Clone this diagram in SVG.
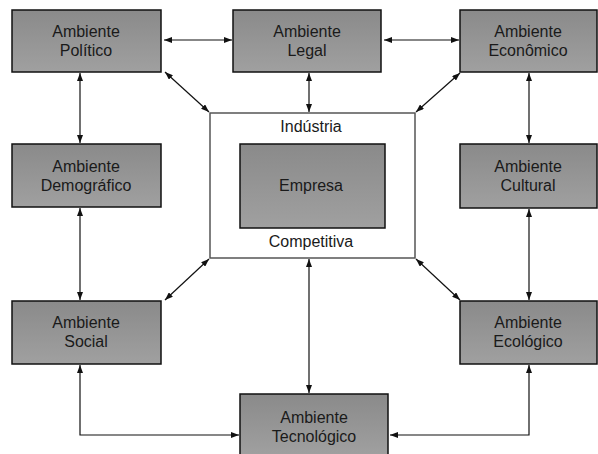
<svg xmlns="http://www.w3.org/2000/svg" width="598" height="454" viewBox="0 0 598 454">
<defs>
<linearGradient id="g" x1="0" y1="0" x2="0" y2="1">
<stop offset="0" stop-color="#8a8a8a"/>
<stop offset="1" stop-color="#a0a0a0"/>
</linearGradient>
<marker id="ah" markerUnits="userSpaceOnUse" markerWidth="8" markerHeight="6" refX="8" refY="3" orient="auto-start-reverse">
<path d="M0,0 L8,3 L0,6 z" fill="#111"/>
</marker>
<style>
.box{fill:url(#g);stroke:#111;stroke-width:1.5}
.t{font-family:"Liberation Sans",Arial,sans-serif;font-size:16px;fill:#1a1a1a;text-anchor:middle}
.c{fill:none;stroke:#111;stroke-width:1.2;marker-start:url(#ah);marker-end:url(#ah)}
</style>
</defs>
<g id="connectors">
<line class="c" x1="164" y1="40" x2="232" y2="40"/>
<line class="c" x1="384" y1="40" x2="459" y2="40"/>
<line class="c" x1="80" y1="73" x2="80" y2="143"/>
<line class="c" x1="529" y1="73" x2="529" y2="143"/>
<line class="c" x1="309" y1="73" x2="309" y2="112"/>
<line class="c" x1="165" y1="72" x2="209" y2="112"/>
<line class="c" x1="460" y1="73" x2="416" y2="112"/>
<line class="c" x1="80" y1="208" x2="80" y2="300"/>
<line class="c" x1="529" y1="209" x2="529" y2="300"/>
<line class="c" x1="209" y1="259" x2="165" y2="300"/>
<line class="c" x1="416" y1="259" x2="460" y2="300"/>
<line class="c" x1="309" y1="259" x2="309" y2="393"/>
<polyline class="c" points="80,365 80,435 239,435"/>
<polyline class="c" points="529,365 529,435 390,435"/>
</g>
<g id="industria">
<rect x="210" y="113" width="205" height="145" fill="#fff" stroke="#555" stroke-width="1.5"/>
<text class="t" x="311" y="132">Indústria</text>
<text class="t" x="311" y="247">Competitiva</text>
</g>
<g id="empresa">
<rect class="box" x="240" y="144" width="145" height="84"/>
<text class="t" x="311" y="191">Empresa</text>
</g>
<g id="politico">
<rect class="box" x="12" y="10" width="149" height="62"/>
<text class="t" x="86" y="37">Ambiente<tspan x="86" dy="18.5">Político</tspan></text>
</g>
<g id="legal">
<rect class="box" x="233" y="10" width="148" height="62"/>
<text class="t" x="307" y="37">Ambiente<tspan x="307" dy="18.5">Legal</tspan></text>
</g>
<g id="economico">
<rect class="box" x="460" y="10" width="137" height="62"/>
<text class="t" x="528" y="37">Ambiente<tspan x="528" dy="18.5">Econômico</tspan></text>
</g>
<g id="demografico">
<rect class="box" x="12" y="144" width="149" height="63"/>
<text class="t" x="86" y="172">Ambiente<tspan x="86" dy="18.5">Demográfico</tspan></text>
</g>
<g id="cultural">
<rect class="box" x="460" y="144" width="137" height="64"/>
<text class="t" x="528" y="172">Ambiente<tspan x="528" dy="18.5">Cultural</tspan></text>
</g>
<g id="social">
<rect class="box" x="12" y="301" width="149" height="63"/>
<text class="t" x="86" y="328">Ambiente<tspan x="86" dy="18.5">Social</tspan></text>
</g>
<g id="ecologico">
<rect class="box" x="460" y="301" width="137" height="63"/>
<text class="t" x="528" y="328">Ambiente<tspan x="528" dy="18.5">Ecológico</tspan></text>
</g>
<g id="tecnologico">
<rect class="box" x="240" y="394" width="148" height="62"/>
<text class="t" x="314" y="423">Ambiente<tspan x="314" dy="18.5">Tecnológico</tspan></text>
</g>
</svg>
